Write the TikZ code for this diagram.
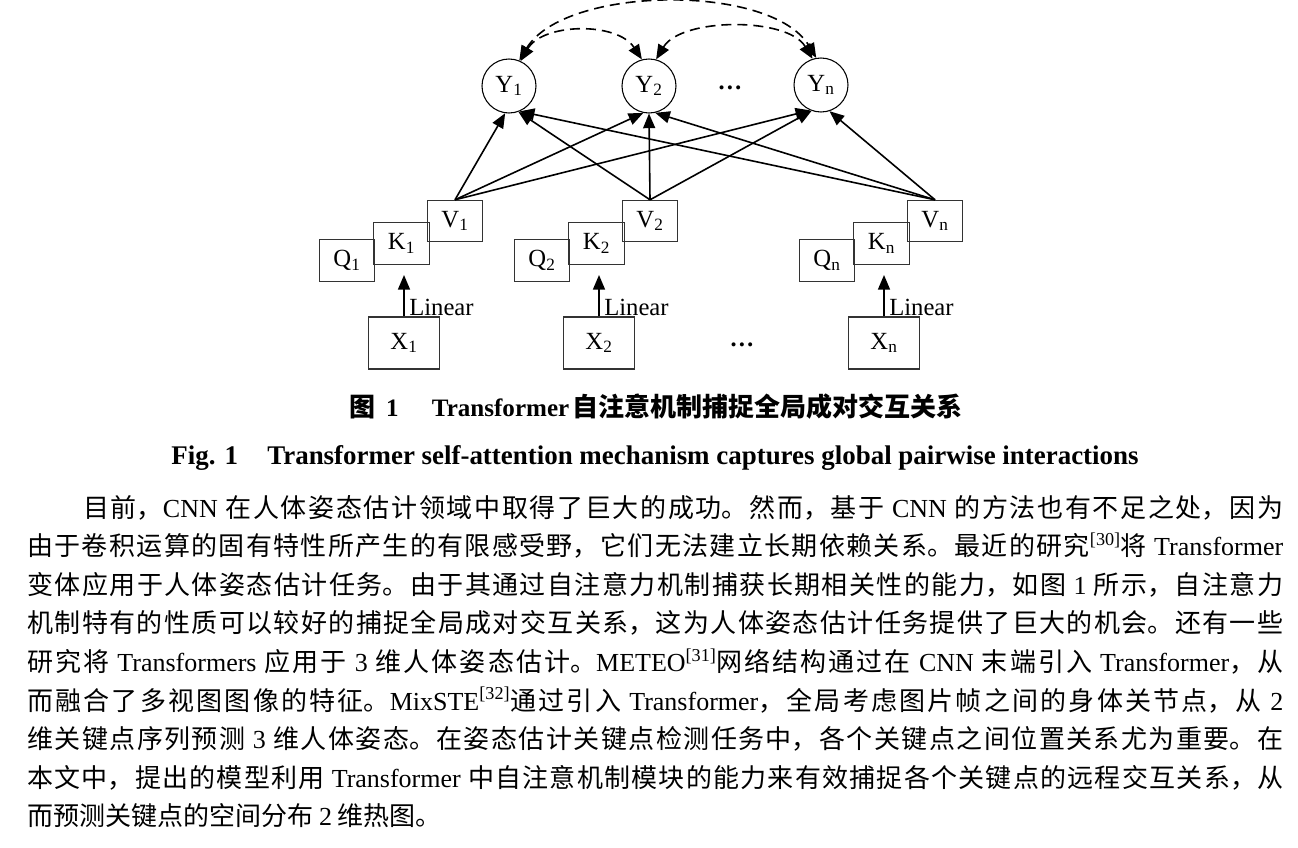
\documentclass[tikz,border=0pt]{standalone}
\usepackage{fontspec}
\setmainfont{Liberation Serif}
\newfontfamily\cjk{Noto Sans CJK SC}
\usetikzlibrary{arrows.meta}
\XeTeXlinebreaklocale "zh"
\XeTeXlinebreakskip=0pt plus 2pt
\newcommand\lat[1]{{\rmfamily#1}}
\newcommand\sref[1]{{\rmfamily\textsuperscript{[#1]}}}
\newcommand\jus[2]{\parbox[b]{#1}{\cjk\fontsize{19.5}{24}\selectfont\tolerance=10000\hyphenpenalty=10000\parfillskip=0pt\relax #2}}
\tikzset{
  arr/.style={-{Triangle[length=11pt,width=9pt]}, line width=1.2pt},
  darr/.style={{Triangle[length=11pt,width=9pt]}-{Triangle[length=11pt,width=9pt]}, dash pattern=on 7.5pt off 4.5pt, line width=1.2pt},
  box/.style={draw=black!80, line width=0.8pt, minimum width=41.5pt, minimum height=31pt, inner sep=0pt, font=\fontsize{18.5}{20}\selectfont},
  xbox/.style={draw=black!80, line width=0.8pt, minimum width=53pt, minimum height=39pt, inner sep=0pt, font=\fontsize{18.5}{20}\selectfont},
  ycirc/.style={circle, draw, line width=0.8pt, minimum size=40.5pt, inner sep=0pt, font=\fontsize{18.5}{20}\selectfont},
  lbl/.style={inner sep=0pt, font=\fontsize{18.5}{20}\selectfont},
  bodyl/.style={anchor=base west, inner sep=0pt}
}
\begin{document}
\begin{tikzpicture}[x=0.75pt, y=-0.75pt]
\useasboundingbox (0,0) rectangle (1298,848);
\fill[white] (0,0) rectangle (1298,848);
% outputs
\node[ycirc] (Y1) at (509,86) {Y\textsubscript{1}};
\node[ycirc] (Y2) at (649,86) {Y\textsubscript{2}};
\node[ycirc] (Yn) at (821,85) {Y\textsubscript{n}};
\node[lbl, anchor=base] (dy) at (730,90) {\textbf{…}};
% groups
\foreach \i/\c in {1/455, 2/650, n/935}{
  \node[box] (Q\i) at (\c-108,260.5) {Q\textsubscript{\i}};
  \node[box] (K\i) at (\c-53.5,243.5) {K\textsubscript{\i}};
  \node[box] (V\i) at (\c,221) {V\textsubscript{\i}};
  \node[xbox] (X\i) at (\c-51,343) {X\textsubscript{\i}};
  \coordinate (L\i) at (\c-51,275);
  \draw[arr] (X\i) -- (L\i);
  \node[lbl, anchor=west] (lin\i) at (\c-46,307) {Linear};
}
\node[lbl, anchor=base] (dx) at (742,346) {\textbf{…}};
% V -> Y
\draw[arr] (V1.north) -- (Y1.262);
\draw[arr] (V2.north) -- (Y1.290);
\draw[arr] (Vn.north) -- (Y1.293);
\draw[arr] (V1.north) -- (Y2.258);
\draw[arr] (V2.north) -- (Y2.270);
\draw[arr] (Vn.north) -- (Y2.283);
\draw[arr] (V1.north) -- (Yn.247);
\draw[arr] (V2.north) -- (Yn.250);
\draw[arr] (Vn.north) -- (Yn.288);
% dashed pairwise arcs
\draw[darr] (Y1.65) .. controls +(22,-38) and +(-25,-38) .. (Y2.105);
\draw[darr] (Y2.75) .. controls +(25,-42) and +(-25,-42) .. (Yn.108);
\draw[darr] (Y1.68) .. controls +(45,-75) and +(-45,-75) .. (Yn.100);
% captions
\node[anchor=base, inner sep=0pt] (cap1) at (656,416) {\bfseries{\cjk\fontsize{19.5}{22}\selectfont 图}\hspace{8pt}{\fontsize{18.8}{22}\selectfont 1\hspace{25pt}Transformer} {\cjk\fontsize{19.5}{22}\selectfont 自注意机制捕捉全局成对交互关系}};
\node[anchor=base, inner sep=0pt] (cap2) at (655,464) {\bfseries\fontsize{20.2}{22}\selectfont Fig. 1\hspace{22pt}Transformer self-attention mechanism captures global pairwise interactions};
% body text
\node[bodyl] (l1) at (83,517) {\jus{900pt}{目前，\lat{CNN} 在人体姿态估计领域中取得了巨大的成功。然而，基于 \lat{CNN} 的方法也有不足之处，因为}};
\node[bodyl] (l2) at (27,555.6) {\jus{942pt}{由于卷积运算的固有特性所产生的有限感受野，它们无法建立长期依赖关系。最近的研究\sref{30}将 \lat{Transformer}}};
\node[bodyl] (l3) at (27,594.2) {\jus{942pt}{变体应用于人体姿态估计任务。由于其通过自注意力机制捕获长期相关性的能力，如图 \lat{1} 所示，自注意力}};
\node[bodyl] (l4) at (27,632.8) {\jus{942pt}{机制特有的性质可以较好的捕捉全局成对交互关系，这为人体姿态估计任务提供了巨大的机会。还有一些}};
\node[bodyl] (l5) at (27,671.4) {\jus{942pt}{研究将 \lat{Transformers} 应用于 \lat{3} 维人体姿态估计。\lat{METEO}\sref{31}网络结构通过在 \lat{CNN} 末端引入 \lat{Transformer}，从}};
\node[bodyl] (l6) at (27,710) {\jus{942pt}{而融合了多视图图像的特征。\lat{MixSTE}\sref{32}通过引入 \lat{Transformer}，全局考虑图片帧之间的身体关节点，从 \lat{2}}};
\node[bodyl] (l7) at (27,748.6) {\jus{942pt}{维关键点序列预测 \lat{3} 维人体姿态。在姿态估计关键点检测任务中，各个关键点之间位置关系尤为重要。在}};
\node[bodyl] (l8) at (27,787.2) {\jus{942pt}{本文中，提出的模型利用 \lat{Transformer} 中自注意机制模块的能力来有效捕捉各个关键点的远程交互关系，从}};
\node[bodyl] (l9) at (27,825.8) {\cjk\fontsize{19.5}{24}\selectfont 而预测关键点的空间分布 \lat{2} 维热图。};
\end{tikzpicture}
\end{document}
